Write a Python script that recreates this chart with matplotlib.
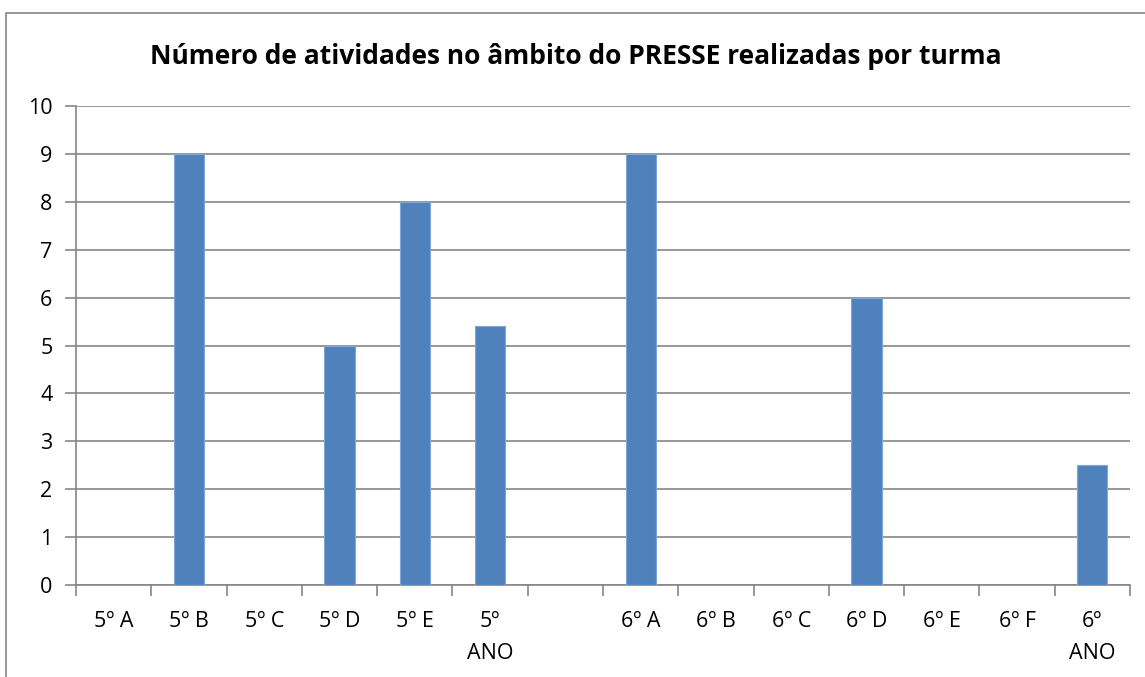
import matplotlib
matplotlib.use("Agg")
import matplotlib.pyplot as plt
from matplotlib.patches import Rectangle

categories = ["5º A", "5º B", "5º C", "5º D", "5º E", "5º\nANO", "",
              "6º A", "6º B", "6º C", "6º D", "6º E", "6º F", "6º\nANO"]
values = [0, 9, 0, 5, 8, 5.4, 0, 9, 0, 0, 6, 0, 0, 2.5]
title = "Número de atividades no âmbito do PRESSE realizadas por turma"
yticks = list(range(0, 11))

plt.rcParams['font.family'] = ['Open Sans', 'DejaVu Sans']

W, H = 1145, 677
fig = plt.figure(figsize=(W / 100, H / 100), dpi=100)
ax = fig.add_axes([76 / W, 1 - 585 / H, (1130 - 76) / W, (585 - 106) / H])

grid_c = "#868686"
x = list(range(len(categories)))
ax.bar(x, values, width=0.4, color="#4F81BD", edgecolor="#7EA6D6", linewidth=0.8, zorder=3)

ax.set_xlim(-0.5, len(categories) - 0.5)
ax.set_ylim(0, 10)
ax.set_yticks(yticks)
ax.set_yticklabels([str(v) for v in yticks], fontsize=15.5)
ax.yaxis.grid(True, color=grid_c, linewidth=1.2, zorder=0)
ax.set_axisbelow(True)

ax.set_xticks([i - 0.5 for i in range(len(categories) + 1)], minor=False)
ax.set_xticklabels([])
ax.set_xticks(x, minor=True)
ax.set_xticklabels(categories, minor=True, fontsize=15.5, va="top", linespacing=1.65)
ax.tick_params(axis="x", which="major", length=8, width=1.2, color=grid_c)
ax.tick_params(axis="x", which="minor", length=0, pad=19)
ax.tick_params(axis="y", length=8, width=1.2, color=grid_c, pad=9)

for s in ["top", "right"]:
    ax.spines[s].set_visible(False)
for s in ["left", "bottom"]:
    ax.spines[s].set_color(grid_c)
    ax.spines[s].set_linewidth(1.2)

fig.text(576 / W, 1 - 57 / H, title, ha="center", va="center", fontsize=19, fontweight="bold")

fig.patches.append(Rectangle((6 / W, -0.1), 1.2, 1 - 13 / H + 0.1, transform=fig.transFigure,
                             fill=False, edgecolor=grid_c, linewidth=1.2, zorder=0))

fig.savefig("out.png", dpi=100)
